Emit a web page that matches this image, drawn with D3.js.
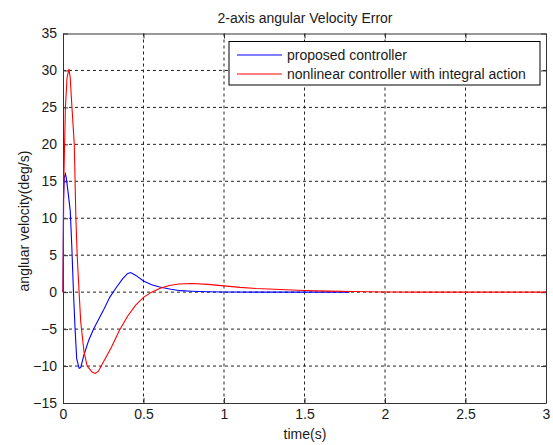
<!DOCTYPE html>
<html><head><meta charset="utf-8">
<script src="https://cdn.jsdelivr.net/npm/d3@7"></script>
<style>body{margin:0;background:#fff;} text{font-family:"Liberation Sans",Arial,sans-serif;}</style>
</head><body><svg id="c" width="553" height="445"></svg>
<script>
const xTicks = [0, 0.5, 1, 1.5, 2, 2.5, 3];
const yTicks = [-15, -10, -5, 0, 5, 10, 15, 20, 25, 30, 35];
const seriesNames = ["proposed controller", "nonlinear controller with integral action"];
const blueT = [0,0.003,0.008,0.015,0.02,0.03,0.045,0.055,0.065,0.075,0.085,0.1,0.11,0.13,0.16,0.19,0.25,0.29,0.33,0.37,0.4,0.42,0.45,0.5,0.55,0.6,0.67,0.73,0.8,0.9,1.0,1.2,1.78];
const blueV = [0,12.5,15.5,16,15.5,13.8,11,6,0,-5,-9,-10.3,-10.2,-8.5,-6.5,-5,-2.5,-0.7,0.6,1.8,2.5,2.65,2.3,1.5,1.0,0.7,0.4,0.2,0.12,0.05,0.02,0,0];
const redT = [0,0.005,0.015,0.025,0.037,0.045,0.05,0.07,0.075,0.08,0.088,0.1,0.11,0.13,0.15,0.18,0.2,0.22,0.25,0.3,0.35,0.4,0.45,0.5,0.55,0.6,0.66,0.72,0.8,0.9,1.0,1.1,1.2,1.35,1.5,1.65,1.8,2.0,2.2,3.0];
const redV = [0,15,25,29,30.2,29,27,20,15,10,5,0,-4,-8,-10,-10.8,-11,-10.7,-9.5,-7.5,-5.2,-3.3,-1.8,-0.7,0,0.5,0.9,1.1,1.18,1.05,0.85,0.65,0.5,0.35,0.22,0.14,0.08,0.03,0,0];

const FS = 14;
const svg = d3.select("#c");
const L=63, R=546, T=33.5, B=403;
const x = d3.scaleLinear().domain([0,3]).range([L,R]);
const y = d3.scaleLinear().domain([-15,35]).range([B,T]);

// grid
const g = svg.append("g");
g.selectAll(".gx").data(xTicks.slice(1,-1)).enter().append("line")
 .attr("x1",d=>x(d)).attr("x2",d=>x(d)).attr("y1",T).attr("y2",B)
 .attr("stroke","#222").attr("stroke-width",1).attr("stroke-dasharray","3,3");
g.selectAll(".gy").data(yTicks.slice(1,-1)).enter().append("line")
 .attr("y1",d=>y(d)).attr("y2",d=>y(d)).attr("x1",L).attr("x2",R)
 .attr("stroke","#222").attr("stroke-width",1).attr("stroke-dasharray","3,3");

// axes
const xa = svg.append("g").attr("transform",`translate(0,${B})`)
 .call(d3.axisBottom(x).tickValues(xTicks).tickFormat(d3.format("")).tickSizeInner(-5).tickSizeOuter(0).tickPadding(6));
const ya = svg.append("g").attr("transform",`translate(${L},0)`)
 .call(d3.axisLeft(y).tickValues(yTicks).tickSizeInner(-5).tickSizeOuter(0).tickPadding(6));
const xt = svg.append("g").attr("transform",`translate(0,${T})`)
 .call(d3.axisTop(x).tickValues(xTicks).tickFormat("").tickSizeInner(-5).tickSizeOuter(0));
const yr = svg.append("g").attr("transform",`translate(${R},0)`)
 .call(d3.axisRight(y).tickValues(yTicks).tickFormat("").tickSizeInner(-5).tickSizeOuter(0));
[xa,ya,xt,yr].forEach(a=>{a.select(".domain").attr("stroke","#333");a.selectAll(".tick line").attr("stroke","#333");
 a.selectAll("text").attr("font-size",FS).attr("fill","#1a1a1a").attr("font-family","'Liberation Sans',Arial,sans-serif");});

// lines
const line = d3.line().x(d=>x(d[0])).y(d=>y(d[1]));
svg.append("path").datum(blueT.map((t,i)=>[t,blueV[i]])).attr("d",line)
 .attr("fill","none").attr("stroke","#0000ff").attr("stroke-width",1.1);
svg.append("path").datum(redT.map((t,i)=>[t,redV[i]])).attr("d",line)
 .attr("fill","none").attr("stroke","#ff0000").attr("stroke-width",1.1);

// legend
svg.append("rect").attr("x",229).attr("y",41.5).attr("width",311).attr("height",43.5)
 .attr("fill","#fff").attr("stroke","#000").attr("stroke-width",1);
const colors=["#0000ff","#ff0000"];
seriesNames.forEach((n,i)=>{
 const yy=55+i*19;
 svg.append("line").attr("x1",237).attr("x2",282).attr("y1",yy).attr("y2",yy).attr("stroke",colors[i]).attr("stroke-width",1.1);
 svg.append("text").attr("x",287).attr("y",yy+5).attr("font-size",FS).attr("fill","#1a1a1a").text(n);
});

// title & labels
svg.append("text").attr("x",305).attr("y",23).attr("text-anchor","middle").attr("font-size",FS).attr("fill","#1a1a1a").text("2-axis angular Velocity Error");
svg.append("text").attr("x",305).attr("y",439).attr("text-anchor","middle").attr("font-size",FS).attr("fill","#1a1a1a").text("time(s)");
svg.append("text").attr("transform","translate(29,221) rotate(-90)").attr("text-anchor","middle").attr("font-size",FS).attr("fill","#1a1a1a").text("angluar velocity(deg/s)");
</script></body></html>
